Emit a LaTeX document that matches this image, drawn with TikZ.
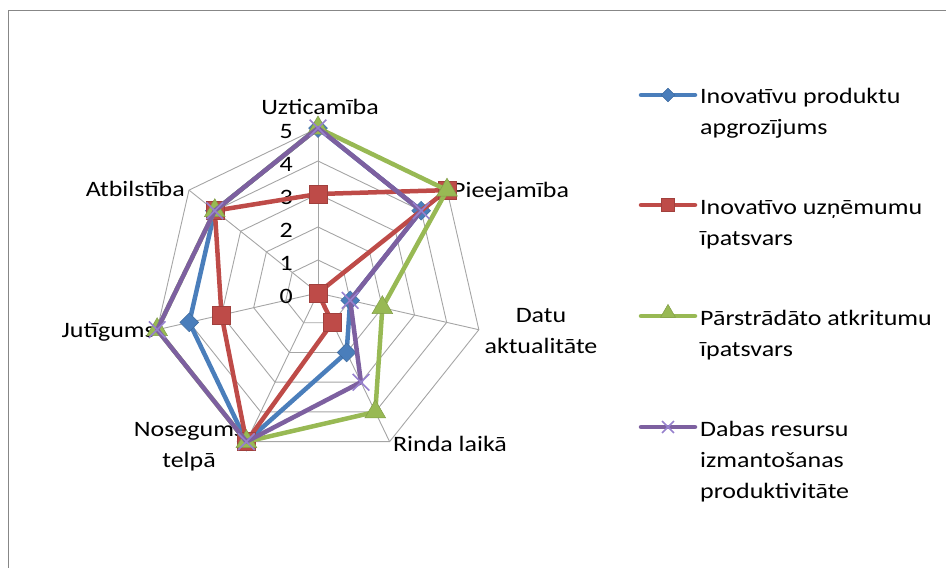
\documentclass[tikz,border=0pt]{standalone}
\usepackage{fontspec}
\setmainfont{Carlito}[FakeStretch=1.18]
\usetikzlibrary{shapes.geometric,shapes.misc}

\definecolor{serblue}{RGB}{74,126,187}
\definecolor{serred}{RGB}{190,75,72}
\definecolor{sergreen}{RGB}{152,185,84}
\definecolor{serpurple}{RGB}{125,96,160}
\definecolor{xpurple}{RGB}{150,128,205}
\definecolor{gridgray}{RGB}{165,165,165}
\definecolor{framegray}{RGB}{135,135,135}

\begin{document}
\begin{tikzpicture}[x=1pt,y=-1pt,
  lbl/.style={font=\fontsize{22}{31}\selectfont, inner sep=0pt, text=black},
  gridline/.style={draw=gridgray, line width=0.9pt},
  serline/.style={line width=4.5pt, line join=round, line cap=round},
  mkA/.style={diamond, fill=serblue, draw=serblue!85!black, line width=0.5pt,
              minimum width=19pt, minimum height=19pt, inner sep=0pt},
  mkB/.style={rectangle, fill=serred, draw=serred!85!black, line width=0.5pt,
              minimum size=18pt, inner sep=0pt},
  mkC/.style={regular polygon, regular polygon sides=3, fill=sergreen,
              draw=sergreen!85!black, line width=0.5pt, minimum size=24pt, inner sep=0pt},
  mkD/.style={cross out, draw=xpurple, line width=1.6pt, minimum size=15pt, inner sep=0pt},
  small/.style={scale=0.72}
]
\useasboundingbox (0,0) rectangle (946,568);

% chart area frame
\draw[framegray, line width=1.8pt] (8.5,570) -- (8.5,10.5) -- (948,10.5);

% radar grid: five rings and seven spokes
\coordinate (O) at (318,293);
\begin{scope}[shift={(O)}]
  \foreach \r in {1,...,5}
    \draw[gridline] (-90:\r*33) \foreach \k in {1,...,6}{ -- (-90+\k*360/7:\r*33)} -- cycle;
  \foreach \k in {0,...,6}
    \coordinate (ax\k) at (-90+\k*360/7:165);
  % data points of the four series
  \foreach \v [count=\k from 0] in {5,4,1,2,5,4,4}
    \coordinate (A\k) at (-90+\k*360/7:\v*33);
  \foreach \v [count=\k from 0] in {3,5,0,1,5,3,4}
    \coordinate (B\k) at (-90+\k*360/7:\v*33);
  \foreach \v [count=\k from 0] in {5,5,2,4,5,5,4}
    \coordinate (C\k) at (-90+\k*360/7:\v*33);
  \foreach \v [count=\k from 0] in {5,4,1,3,5,5,4}
    \coordinate (D\k) at (-90+\k*360/7:\v*33);
\end{scope}
\foreach \k in {0,...,6}
  \draw[gridline] (O) -- (ax\k);

% scale labels
\foreach \v in {0,...,5}
  \node[lbl, anchor=base east] (tick\v) at (293,{138+33*(5-\v)}) {\v};

% axis labels
\node[lbl, anchor=base] (lUz) at (320,114.5) {Uzticamība};
\node[lbl, anchor=base west] (lPi) at (452,197) {Pieejamība};
\node[lbl, anchor=base] (lDa1) at (541,322.5) {Datu};
\node[lbl, anchor=base] (lDa2) at (541,353) {aktualitāte};
\node[lbl, anchor=base] (lRi) at (450,451) {Rinda laikā};
\node[lbl, anchor=base] (lNo1) at (189,436.5) {Nosegums};
\node[lbl, anchor=base] (lNo2) at (189,467) {telpā};
\node[lbl, anchor=base east] (lJu) at (155,337) {Jutīgums};
\node[lbl, anchor=base east] (lAt) at (185,196) {Atbilstība};

% series
\draw[serline, draw=serblue] (A0) -- (A1) -- (A2) -- (A3) -- (A4) -- (A5) -- (A6) -- cycle;
\foreach \k in {0,...,6} \node[mkA] (mA\k) at (A\k) {};
\draw[serline, draw=serred] (B0) -- (B1) -- (B2) -- (B3) -- (B4) -- (B5) -- (B6) -- cycle;
\foreach \k in {0,...,6} \node[mkB] (mB\k) at (B\k) {};
\draw[serline, draw=sergreen] (C0) -- (C1) -- (C2) -- (C3) -- (C4) -- (C5) -- (C6) -- cycle;
\foreach \k in {0,...,6} \node[mkC] (mC\k) at (C\k) {};
\draw[serline, draw=serpurple] (D0) -- (D1) -- (D2) -- (D3) -- (D4) -- (D5) -- (D6) -- cycle;
\foreach \k in {0,...,6} \node[mkD] (mD\k) at (D\k) {};

% legend
\coordinate (gA1) at (641,95);  \coordinate (gA2) at (695,95);
\coordinate (gB1) at (641,205); \coordinate (gB2) at (695,205);
\coordinate (gC1) at (641,316); \coordinate (gC2) at (695,316);
\coordinate (gD1) at (641,427); \coordinate (gD2) at (695,427);
\draw[serline, draw=serblue] (gA1) -- (gA2);
\node[mkA, small] (kA) at (668,95) {};
\draw[serline, draw=serred] (gB1) -- (gB2);
\node[mkB, small] (kB) at (668,205) {};
\draw[serline, draw=sergreen] (gC1) -- (gC2);
\node[mkC, small] (kC) at (668,313) {};
\draw[serline, draw=serpurple] (gD1) -- (gD2);
\node[mkD, small] (kD) at (668,427) {};

\node[lbl, anchor=base west] (tA1) at (700,103) {Inovatīvu produktu};
\node[lbl, anchor=base west] (tA2) at (700,134) {apgrozījums};
\node[lbl, anchor=base west] (tB1) at (700,214) {Inovatīvo uzņēmumu};
\node[lbl, anchor=base west] (tB2) at (700,245) {īpatsvars};
\node[lbl, anchor=base west] (tC1) at (700,325) {Pārstrādāto atkritumu};
\node[lbl, anchor=base west] (tC2) at (700,356) {īpatsvars};
\node[lbl, anchor=base west] (tD1) at (700,436) {Dabas resursu};
\node[lbl, anchor=base west] (tD2) at (700,467) {izmantošanas};
\node[lbl, anchor=base west] (tD3) at (700,498) {produktivitāte};
\end{tikzpicture}
\end{document}
